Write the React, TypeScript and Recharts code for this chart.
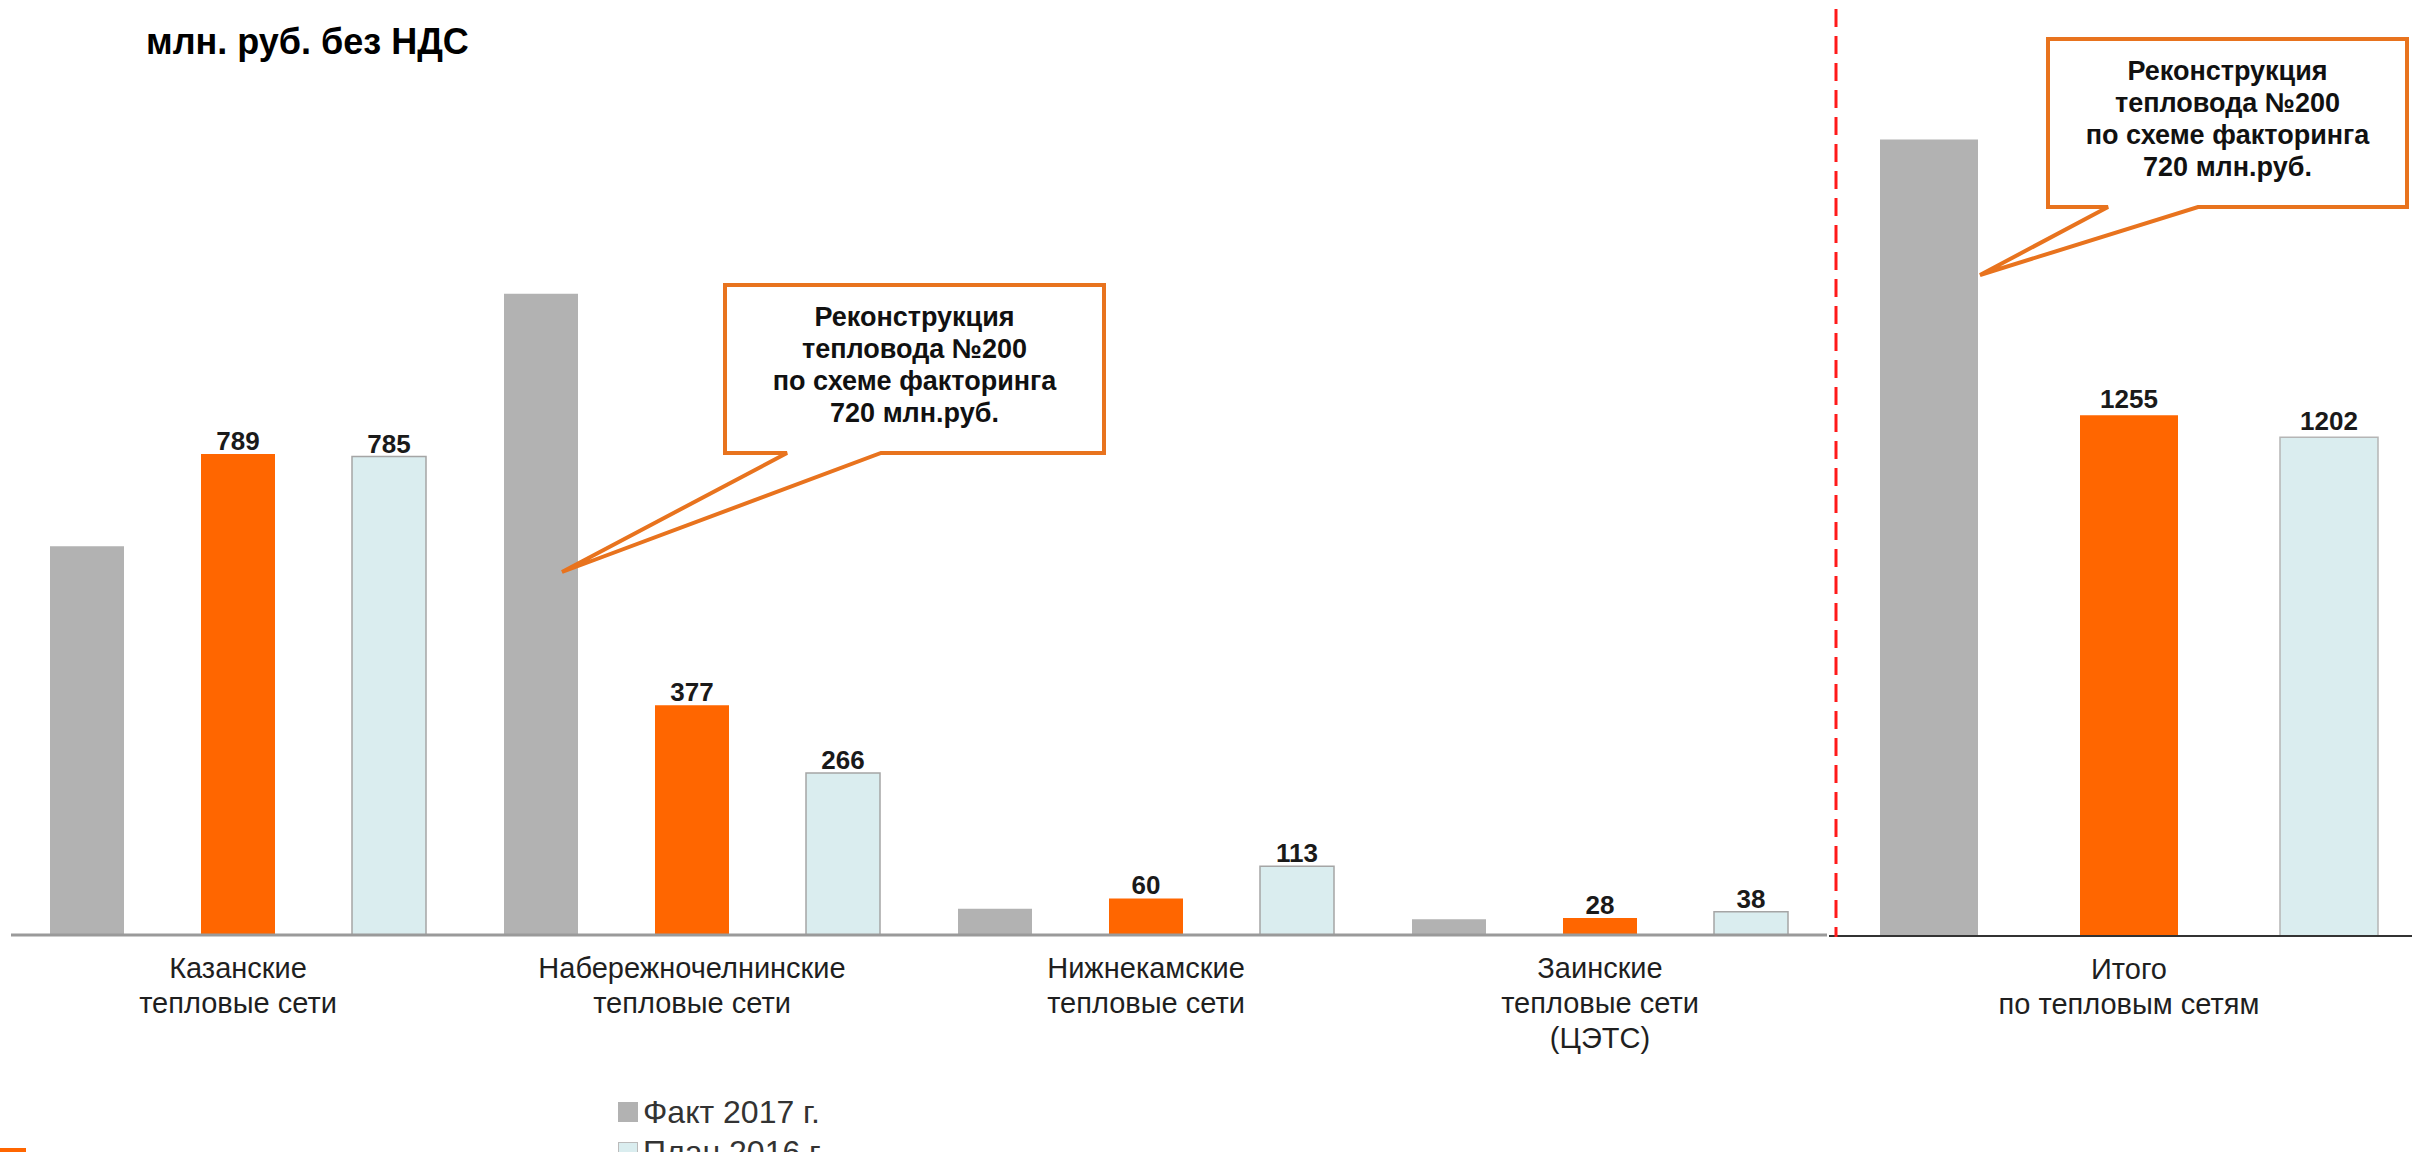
import React from 'react';
import { BarChart, Bar, XAxis, YAxis, LabelList, Legend } from 'recharts';

const FONT = '"Liberation Sans", Arial, sans-serif';

// тепловые сети (left chart)
const networks = [
  'Казанские\nтепловые сети',
  'Набережночелнинские\nтепловые сети',
  'Нижнекамские\nтепловые сети',
  'Заинские\nтепловые сети\n(ЦЭТС)',
];
const fact2017 = [638, 1052, 43, 26];
const fact2016 = [789, 377, 60, 28];
const plan2016 = [785, 266, 113, 38];

// итог (right chart)
const totalName = ['Итого\nпо тепловым сетям'];
const totalFact2017 = [1920];
const totalFact2016 = [1255];
const totalPlan2016 = [1202];

const seriesNames = ['Факт 2017 г.', 'Факт 2016 г.', 'План 2016 г.'];
const legendOrder = ['Факт 2017 г.', 'План 2016 г.', 'Факт 2016 г.'];
const calloutLines = ['Реконструкция', 'тепловода №200', 'по схеме факторинга', '720 млн.руб.'];

const GRAY = '#B2B2B2';
const ORANGE = '#FF6600';
const LIGHT = '#DAEDEF';
const seriesColors: Record<string, string> = {
  'Факт 2017 г.': GRAY,
  'Факт 2016 г.': ORANGE,
  'План 2016 г.': LIGHT,
};

const leftData = networks.map((name, i) => ({
  name,
  f17: fact2017[i],
  f16: fact2016[i],
  p16: plan2016[i],
}));

const rightData = totalName.map((name, i) => ({
  name,
  f17: totalFact2017[i],
  f16: totalFact2016[i],
  p16: totalPlan2016[i],
}));

const MultiTick = ({ x, y, payload }: any) => {
  const lines = String(payload.value).split('\n');
  return (
    <text x={x} y={y} textAnchor="middle" fill="#1f1f1f" fontSize={29} fontFamily={FONT}>
      {lines.map((l, i) => (
        <tspan key={i} x={x} dy={i === 0 ? 43 : 35}>
          {l}
        </tspan>
      ))}
    </text>
  );
};

const LegendBox = (props: any) => {
  const items = [...(props.payload || [])].sort(
    (a: any, b: any) => legendOrder.indexOf(a.value) - legendOrder.indexOf(b.value)
  );
  return (
    <div style={{ fontFamily: FONT, fontSize: 32, color: '#333' }}>
      {items.map((it: any) => (
        <div key={it.value} style={{ display: 'flex', alignItems: 'center', height: 40, whiteSpace: 'nowrap' }}>
          <span
            style={{
              display: 'inline-block',
              width: 20,
              height: 20,
              marginRight: 5,
              background: seriesColors[it.value],
              boxSizing: 'border-box',
              border: it.value === 'План 2016 г.' ? '1px solid #bbb' : 'none',
            }}
          />
          {it.value}
        </div>
      ))}
    </div>
  );
};

const labelStyle = { fontSize: 26, fontWeight: 'bold', fill: '#1a1a1a', fontFamily: FONT };

function Callout({ x1, y1, x2, y2, t1, t2, tipX, tipY }: any) {
  const d = `M${x1},${y1} H${x2} V${y2} H${t2} L${tipX},${tipY} L${t1},${y2} H${x1} Z`;
  const cx = (x1 + x2) / 2;
  return (
    <g>
      <path d={d} fill="#fff" stroke="#E8731E" strokeWidth={4} strokeLinejoin="miter" />
      {calloutLines.map((l, i) => (
        <text
          key={i}
          x={cx}
          y={y1 + 41 + i * 32}
          textAnchor="middle"
          fontSize={27}
          fontWeight="bold"
          fontFamily={FONT}
          fill="#111"
        >
          {l}
        </text>
      ))}
    </g>
  );
}

export default function App() {
  return (
    <div
      style={{
        position: 'absolute',
        left: 0,
        top: 0,
        width: 2412,
        height: 1152,
        overflow: 'hidden',
        background: '#fff',
        fontFamily: FONT,
      }}
    >
      <div style={{ position: 'absolute', left: 0, top: 0 }}>
        <BarChart
          width={1836}
          height={1152}
          data={leftData}
          margin={{ top: 100, right: 9, bottom: 187, left: 11 }}
          barGap={77}
        >
          <XAxis
            dataKey="name"
            axisLine={{ stroke: '#9a9a9a', strokeWidth: 3 }}
            tickLine={false}
            tickSize={0}
            tickMargin={0}
            interval={0}
            tick={<MultiTick />}
          />
          <YAxis hide domain={[0, 1370]} />
          <Legend
            layout="vertical"
            align="center"
            verticalAlign="middle"
            content={<LegendBox />}
            wrapperStyle={{ left: 618, top: 1092, width: 'auto', height: 'auto' }}
          />
          <Bar dataKey="f17" name={seriesNames[0]} fill={GRAY} barSize={74} isAnimationActive={false} />
          <Bar dataKey="f16" name={seriesNames[1]} fill={ORANGE} barSize={74} isAnimationActive={false}>
            <LabelList dataKey="f16" position="top" offset={4} style={labelStyle} />
          </Bar>
          <Bar
            dataKey="p16"
            name={seriesNames[2]}
            fill={LIGHT}
            stroke="#a5a5a5"
            strokeWidth={1.5}
            barSize={74}
            isAnimationActive={false}
          >
            <LabelList dataKey="p16" position="top" offset={4} style={labelStyle} />
          </Bar>
        </BarChart>
      </div>

      <div style={{ position: 'absolute', left: 1829, top: 0 }}>
        <BarChart
          width={600}
          height={1152}
          data={rightData}
          margin={{ top: 100, right: 0, bottom: 186, left: 0 }}
          barGap={102}
        >
          <XAxis
            dataKey="name"
            axisLine={{ stroke: '#333', strokeWidth: 2 }}
            tickLine={false}
            tickSize={0}
            tickMargin={0}
            interval={0}
            tick={<MultiTick />}
          />
          <YAxis hide domain={[0, 2015]} />
          <Bar dataKey="f17" name={seriesNames[0]} fill={GRAY} barSize={98} isAnimationActive={false} />
          <Bar dataKey="f16" name={seriesNames[1]} fill={ORANGE} barSize={98} isAnimationActive={false}>
            <LabelList dataKey="f16" position="top" offset={7} style={labelStyle} />
          </Bar>
          <Bar
            dataKey="p16"
            name={seriesNames[2]}
            fill={LIGHT}
            stroke="#b5b5b5"
            strokeWidth={1.5}
            barSize={98}
            isAnimationActive={false}
          >
            <LabelList dataKey="p16" position="top" offset={7} style={labelStyle} />
          </Bar>
        </BarChart>
      </div>

      <svg
        width={2412}
        height={1152}
        style={{ position: 'absolute', left: 0, top: 0, pointerEvents: 'none' }}
      >
        <text x={146} y={54} fontSize={36} fontWeight="bold" fontFamily={FONT} fill="#000">
          млн. руб. без НДС
        </text>
        <line x1={1836} y1={9} x2={1836} y2={937} stroke="#FF1A1A" strokeWidth={3} strokeDasharray="18 9" />
        <Callout x1={725} y1={285} x2={1104} y2={453} t1={787} t2={881} tipX={562} tipY={572} />
        <Callout x1={2048} y1={39} x2={2407} y2={207} t1={2108} t2={2198} tipX={1980} tipY={275} />
        <rect x={0} y={1148} width={26} height={4} fill={ORANGE} />
      </svg>
    </div>
  );
}
